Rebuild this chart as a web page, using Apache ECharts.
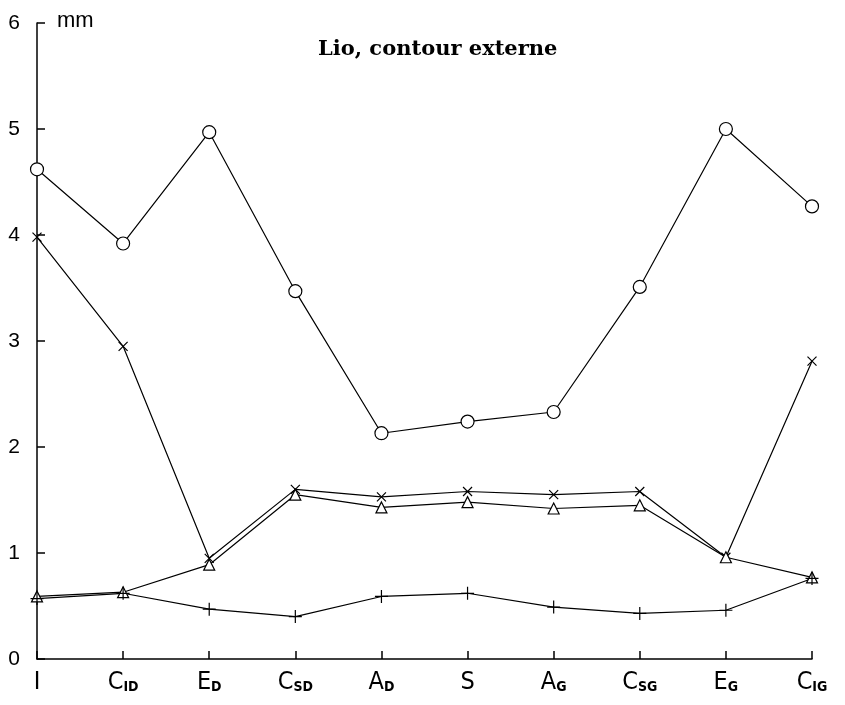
<!DOCTYPE html>
<html>
<head>
<meta charset="utf-8">
<script src="https://cdn.jsdelivr.net/npm/echarts@6/dist/echarts.min.js"></script>
<style>
html,body{margin:0;padding:0;background:#fff;}
#chart{width:845px;height:705px;}
</style>
</head>
<body>
<div id="chart"></div>
<script>
// Categories (main letter _ subscript)
var categories = ['I', 'C_ID', 'E_D', 'C_SD', 'A_D', 'S', 'A_G', 'C_SG', 'E_G', 'C_IG'];
// Series values (mm)
var circleSeries   = [4.62, 3.92, 4.97, 3.47, 2.13, 2.24, 2.33, 3.51, 5.00, 4.27];
var crossSeries    = [3.98, 2.95, 0.95, 1.60, 1.53, 1.58, 1.55, 1.58, 0.96, 2.81];
var triangleSeries = [0.59, 0.63, 0.89, 1.55, 1.43, 1.48, 1.42, 1.45, 0.96, 0.77];
var plusSeries     = [0.57, 0.62, 0.47, 0.40, 0.59, 0.62, 0.49, 0.43, 0.46, 0.76];
var yTicks = [0, 1, 2, 3, 4, 5, 6];

var chart = echarts.init(document.getElementById('chart'), null, {renderer: 'canvas'});

var xPath = 'path://M0,0L10,10M10,0L0,10';
var plusPath = 'path://M5,0L5,10M0,5L10,5';
var condensed = 'DejaVu Sans Condensed, Liberation Sans Narrow, Liberation Sans';

function mkSeries(name, data, symbol, size) {
  return {
    name: name,
    type: 'line',
    data: data,
    symbol: symbol,
    symbolSize: size,
    showSymbol: true,
    lineStyle: {color: '#000', width: 1.2},
    itemStyle: {color: '#fff', borderColor: '#000', borderWidth: 1.2},
    z: 3
  };
}

var option = {
  animation: false,
  backgroundColor: '#fff',
  title: {
    text: 'Lio, contour externe',
    left: 313,
    top: 34,
    textStyle: {fontFamily: 'DejaVu Serif', fontWeight: 'bold', fontSize: 21, color: '#000'}
  },
  graphic: [{
    type: 'text', left: 57, top: 10,
    style: {text: 'mm', fontFamily: 'Liberation Sans', fontSize: 22, fill: '#000'}
  }],
  grid: {left: 37, right: 33, top: 23, bottom: 46, containLabel: false},
  xAxis: {
    type: 'category',
    data: categories,
    boundaryGap: false,
    axisLine: {lineStyle: {color: '#000', width: 1.5}},
    axisTick: {inside: true, length: 8, lineStyle: {color: '#000', width: 1.5}, alignWithLabel: true},
    axisLabel: {
      margin: 11,
      formatter: function (v) {
        var p = v.split('_');
        return p.length > 1 ? '{m|' + p[0] + '}{s|' + p[1] + '}' : '{m|' + p[0] + '}';
      },
      rich: {
        m: {fontFamily: condensed, fontSize: 25, color: '#000', lineHeight: 24, verticalAlign: 'top'},
        s: {fontFamily: condensed, fontSize: 14, fontWeight: 'bold', color: '#000', lineHeight: 14, padding: [15, 0, 0, 0], verticalAlign: 'bottom'}
      }
    },
    splitLine: {show: false}
  },
  yAxis: {
    type: 'value',
    min: yTicks[0],
    max: yTicks[yTicks.length - 1],
    interval: 1,
    axisLine: {show: true, lineStyle: {color: '#000', width: 1.5}},
    axisTick: {show: true, inside: true, length: 8, lineStyle: {color: '#000', width: 1.5}},
    axisLabel: {margin: 17, fontFamily: 'Liberation Sans', fontSize: 21, color: '#000'},
    splitLine: {show: false}
  },
  series: [
    mkSeries('o', circleSeries, 'circle', 13),
    mkSeries('x', crossSeries, xPath, 9),
    mkSeries('tri', triangleSeries, 'triangle', 11),
    mkSeries('plus', plusSeries, plusPath, 13)
  ]
};
chart.setOption(option);
</script>
</body>
</html>
